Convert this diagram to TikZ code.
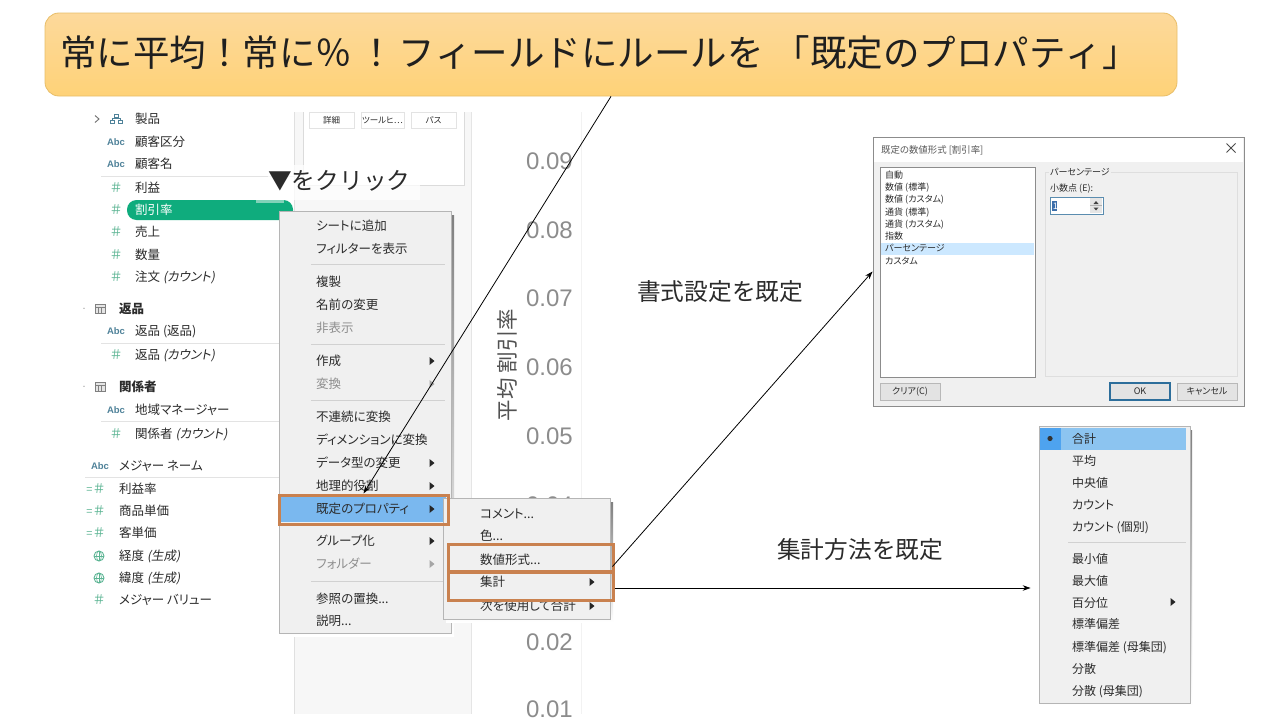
\documentclass[tikz,border=0pt]{standalone}
\usepackage{fontspec}
\setmainfont[RawFeature={+palt}]{Noto Sans CJK JP}
\newfontfamily\jpit[FakeSlant=0.18,RawFeature={+palt}]{Noto Sans CJK JP}
\newfontfamily\fullw[Kerning=Off]{Noto Sans CJK JP}
\newfontfamily\latinsf{Liberation Sans}
\usetikzlibrary{arrows.meta}
\definecolor{orangeb}{HTML}{C9814F}
\definecolor{menubg}{HTML}{F0F0F0}
\definecolor{menuln}{HTML}{B5B5B5}
\definecolor{shade}{HTML}{8A8A8A}
\definecolor{ink}{HTML}{2B2B2B}
\definecolor{greyink}{HTML}{8E8E8E}
\definecolor{hashg}{HTML}{5DB594}
\definecolor{abcb}{HTML}{4F8299}
\definecolor{sepl}{HTML}{E3E3E3}
\definecolor{tick}{HTML}{8C8C8C}
\newcommand{\tdots}{...}
\tikzset{
  lbl/.style={anchor=west,inner sep=0pt,text=ink,font=\fontsize{12.5}{14}\selectfont,text height=10.6pt,text depth=1.4pt},
  greyl/.style={lbl,text=greyink},
  bold/.style={lbl,font=\fontsize{12.5}{14}\selectfont\bfseries},
  sm/.style={lbl,font=\fontsize{12}{13}\selectfont,text height=10pt,text depth=1.4pt},
  dlg/.style={lbl,font=\fontsize{9}{10}\selectfont,text height=7.8pt,text depth=1.2pt},
  bigl/.style={anchor=west,inner sep=0pt,text=ink,font=\fullw\fontsize{23.7}{26}\selectfont},
  tickl/.style={anchor=east,inner sep=0pt,text=tick,font=\latinsf\fontsize{24}{26}\selectfont,text height=17pt,text depth=0pt},
  hash/.style={inner sep=0pt,text=hashg,font=\fullw\fontsize{13}{14}\selectfont},
  abc/.style={inner sep=0pt,text=abcb,font=\latinsf\bfseries\fontsize{9.5}{11}\selectfont},
  chip/.style={draw=sepl,fill=white,inner sep=0pt,minimum height=16pt,text=ink,font=\fontsize{8.5}{10}\selectfont},
  menubox/.style={draw=menuln,fill=menubg,inner sep=0pt,line width=.8pt},
  orangebox/.style={draw=orangeb,line width=3pt,inner sep=0pt},
  dbtn/.style={draw=black!28,fill=black!11,inner sep=0pt,minimum width=60pt,minimum height=17pt,text=ink,font=\fontsize{9}{10}\selectfont},
  arr/.style={draw=black,line width=.8pt,-{Stealth[length=8pt,width=5.5pt]}},
  septr/.style={draw=black!18,line width=.7pt},
  sidesep/.style={draw=sepl,line width=.8pt}
}
\newcommand{\tri}[3][black!85]{\fill[#1] (#2-2.5,#3-4) -- (#2+2.5,#3) -- (#2-2.5,#3+4) -- cycle;}
\begin{document}
\begin{tikzpicture}[x=1pt,y=-1pt]
\useasboundingbox (0,0) rectangle (1280,720);
\fill[white] (0,0) rectangle (1280,720);

% chart behind
\draw[black!5,line width=.8pt] (581,112) -- (581,714);
\foreach \n/\y/\t in {a/161/0.09,b/230/0.08,c/298/0.07,d/367/0.06,e/436/0.05,f/505/0.04,g/642/0.02,h/709/0.01}
  \node[tickl] (tick\n) at (573,\y) {\t};
\node[rotate=90,inner sep=0pt,text=black!68,font=\fullw\fontsize{21.5}{23}\selectfont] (axistitle) at (507,365) {平均 割引率};

% shelf panel
\fill[black!3] (295,112) rectangle (471,714);
\fill[white] (303,112) rectangle (464,185);
\draw[black!14,line width=.8pt] (303,112) -- (303,185) -- (464,185) -- (464,112);
\draw[black!12,line width=.8pt] (294.5,112) -- (294.5,714);
\draw[black!10,line width=.8pt] (471,112) -- (471,714);
\node[chip,minimum width=45pt] (chipa) at (331.5,120) {詳細};
\node[chip,minimum width=43pt] (chipb) at (382.5,120) {ツールヒ…};
\node[chip,minimum width=45pt] (chipc) at (433.5,120) {パス};

% side list
\draw[sidesep] (101,176) -- (295,176);
\draw[sidesep] (101,343) -- (295,343);
\draw[sidesep] (101,421) -- (295,421);
\draw[sidesep] (85,477) -- (295,477);
\fill[rounded corners=9.5pt,fill={rgb,255:red,15;green,172;blue,125}] (127,200) rectangle (293,220);
\fill[fill={rgb,255:red,130;green,210;blue,185}] (256,200) rectangle (284,202.5);

\foreach \n/\y/\t in {a/119/製品,b/142/顧客区分,c/164/顧客名,d/188/利益,f/232/売上,g/255/数量,j/331/返品 (返品),l/410/地域マネージャー}
  \node[lbl] (side\n) at (135,\y) {\t};
\node[lbl] (sideh) at (135,277) {注文 {\jpit(カウント)}};
\node[lbl] (sidek) at (135,355) {返品 {\jpit(カウント)}};
\node[lbl] (sidem) at (135,434) {関係者 {\jpit(カウント)}};
\node[lbl,text=white] (sidee) at (135,210) {割引率};
\node[bold] (sidei) at (119,309) {返品};
\node[bold] (sidel2) at (119,387) {関係者};
\foreach \n/\y/\t in {n/466/メジャー ネーム,o/489/利益率,p/511/商品単価,q/533/客単価,t/600/メジャー バリュー}
  \node[lbl] (side\n) at (119,\y) {\t};
\node[lbl] (sider) at (119,556) {経度 {\jpit(生成)}};
\node[lbl] (sides) at (119,578) {緯度 {\jpit(生成)}};

% side icons
\foreach \n/\x/\y in {a/116/142,b/116/164,c/116/331,d/116/410,e/100/466}
  \node[abc] (abc\n) at (\x,\y) {Abc};
\foreach \n/\y in {a/188,b/210,c/232,d/255,e/277,f/355,g/434}
  \node[hash] (hash\n) at (116,\y) {＃};
\foreach \n/\y in {h/489,i/511,j/533}
  \node[hash] (hash\n) at (96,\y) {\fontsize{11}{12}\selectfont=\fontsize{13}{14}\selectfont＃};
\node[hash] (hashk) at (99,600) {＃};
\foreach \y in {556,578}{
  \draw[hashg,line width=.9pt] (99,\y) circle (5pt);
  \draw[hashg,line width=.6pt] (94,\y) -- (104,\y) (99,\y-5) -- (99,\y+5);
  \draw[hashg,line width=.6pt] (99,\y) ellipse (2.5pt and 5pt);
}
\draw[black!55,line width=.9pt] (95,115.5) -- (99,119) -- (95,122.5);
\draw[abcb,line width=.8pt] (114,114) rectangle (118,117) (110,120) rectangle (114,123) (118,120) rectangle (122,123) (116,117) -- (116,118.5) (112,120) -- (112,118.5) -- (120,118.5) -- (120,120);
\foreach \y in {309,387}{
  \draw[black!50,fill=black!10,line width=.7pt] (95,\y-4.5) rectangle (105,\y+4.5);
  \draw[black!50,line width=.5pt] (95,\y-1.5) -- (105,\y-1.5) (98.5,\y-1.5) -- (98.5,\y+4.5) (101.5,\y-1.5) -- (101.5,\y+4.5);
  \fill[black!50] (84,\y-.8) circle (.7pt);
}

% click hint
\fill[white,opacity=.75] (268,165) rectangle (420,200);
\node[bigl] (hint) at (268,181) {▼をクリック};

% main context menu
\fill[shade] (283,215) rectangle (454,636);
\node[menubox,minimum width=172pt,minimum height=422pt] (mainmenu) at (365,422) {};
\foreach \y in {264,344,400,581}
  \draw[septr] (311,\y) -- (445,\y);
\fill[fill={rgb,255:red,122;green,184;blue,239}] (281,497) rectangle (446,522);
\foreach \n/\y/\t in {a/226/シートに追加,b/249/フィルターを表示,c/282/複製,d/305/名前の変更,f/361/作成,h/417/不連続に変換,i/440/ディメンションに変換,j/463/データ型の変更,k/486/地理的役割,l/509/既定のプロパティ,m/541/グループ化,o/599/参照の置換\tdots,p/621/説明\tdots}
  \node[lbl] (main\n) at (316,\y) {\t};
\foreach \n/\y/\t in {e/328/非表示,g/384/変換,n/564/フォルダー}
  \node[greyl] (main\n) at (316,\y) {\t};
\foreach \y in {361,463,486,509,541}{\tri{432}{\y}}
\foreach \y in {384,564}{\tri[black!35]{432}{\y}}

% sub menu
\fill[shade] (446,502) rectangle (613,622);
\node[menubox,minimum width=167pt,minimum height=121pt] (submenu) at (526.5,558.5) {};
\foreach \n/\y/\t in {a/514/コメント\tdots,b/536/色\tdots,c/560/数値形式\tdots,d/582/集計,e/606/次を使用して合計}
  \node[lbl] (sub\n) at (480,\y) {\t};
\foreach \y in {582,606}{\tri{592}{\y}}

% orange highlight boxes
\node[orangebox,minimum width=169pt,minimum height=29pt] (boxprop) at (363.5,509.5) {};
\node[orangebox,minimum width=165pt,minimum height=27pt] (boxfmt) at (530.5,557.5) {};
\node[orangebox,minimum width=165pt,minimum height=28pt] (boxagg) at (530.5,586) {};

% dialog
\node[draw=black!45,fill=menubg,line width=.9pt,inner sep=0pt,minimum width=371pt,minimum height=269pt] (dialog) at (1058.5,271.5) {};
\fill[white] (873.6,137.6) rectangle (1243.4,162);
\node[lbl,text=black!65,font=\fontsize{9.4}{11}\selectfont] (dtitle) at (881,148.5) {既定の数値形式 [割引率]};
\draw[black!70,line width=.8pt] (1226.5,143.5) -- (1235.5,152.5) (1226.5,152.5) -- (1235.5,143.5);
\draw[black!45,fill=white,line width=.7pt] (880,167) rectangle (1035,377);
\fill[fill={rgb,255:red,204;green,232;blue,255}] (881,243) rectangle (1034,255);
\foreach \n/\y/\t in {a/175.5/自動,b/187.5/数値 (標準),c/199.5/数値 (カスタム),d/212/通貨 (標準),e/224.5/通貨 (カスタム),f/236.5/指数,g/248.5/パーセンテージ,h/261/カスタム}
  \node[dlg] (dl\n) at (885,\y) {\t};
\draw[black!13,line width=.7pt] (1045,172) rectangle (1237,376);
\node[dlg,fill=menubg,inner xsep=1pt] (dgroup) at (1049,172) {パーセンテージ};
\node[dlg] (dpoint) at (1050,188) {小数点 (E):};
\draw[fill=white,draw={rgb,255:red,90;green,140;blue,175},line width=.8pt] (1050,197) rectangle (1103,214);
\fill[fill={rgb,255:red,60;green,110;blue,170}] (1052,201) rectangle (1057,211);
\node[dlg,text=white] (dval) at (1052.6,206) {1};
\fill[black!10] (1090,198) rectangle (1102,213);
\draw[black!30,line width=.5pt] (1090,205.5) -- (1102,205.5);
\fill[black!75] (1093.5,204) -- (1098.5,204) -- (1096,201) -- cycle (1093.5,207.5) -- (1098.5,207.5) -- (1096,210.5) -- cycle;
\node[dbtn] (dclear) at (910,391.5) {クリア(C)};
\node[dbtn,draw={rgb,255:red,45;green,110;blue,155},line width=1.3pt] (dok) at (1140,391.5) {OK};
\node[dbtn] (dcancel) at (1207,391.5) {キャンセル};

% aggregation menu
\fill[shade] (1043,430) rectangle (1192,705.5);
\node[menubox,minimum width=151pt,minimum height=277pt] (agg) at (1114.5,564.5) {};
\fill[fill={rgb,255:red,140;green,196;blue,240}] (1040,428) rectangle (1186,450);
\fill[fill={rgb,255:red,78;green,163;blue,239}] (1040,428) rectangle (1061,450);
\fill[black!80] (1050,438.5) circle (2.6pt);
\draw[septr] (1068,542) -- (1186,542);
\foreach \n/\y/\t in {a/439/合計,b/461/平均,c/483/中央値,d/505/カウント,e/527/カウント (個別),f/559/最小値,g/581/最大値,h/603/百分位,i/624/標準偏差,j/647/標準偏差 (母集団),k/669/分散,l/691/分散 (母集団)}
  \node[sm] (agg\n) at (1072,\y) {\t};
\tri{1173}{602}

% title
\node[draw={rgb,255:red,232;green,190;blue,105},line width=.8pt,rounded corners=14pt,top color={rgb,255:red,253;green,217;blue,155},bottom color={rgb,255:red,254;green,210;blue,120},minimum width=1132pt,minimum height=83pt,inner sep=0pt] (title) at (611,54.5) {};
\node[anchor=west,inner sep=0pt,text=black!88,font=\fullw\fontsize{36.5}{40}\selectfont] (titletext) at (60,53) {常に平均！常に％\hspace{6pt}！\hspace{4pt}フィールドにルールを\hspace{10pt}「既定のプロパティ」};

% big labels
\node[bigl] (lblfmt) at (637,292) {書式設定を既定};
\node[bigl] (lblagg) at (777,550) {集計方法を既定};

% connectors
\draw[arr] (title.south) -- (boxprop.north);
\draw[arr] ([xshift=-2pt,yshift=-9pt]boxfmt.east) -- (dialog.west);
\draw[arr] ([yshift=-2pt]boxagg.east) -- ([xshift=-8pt,yshift=-23.5pt]agg.west);
\end{tikzpicture}
\end{document}
